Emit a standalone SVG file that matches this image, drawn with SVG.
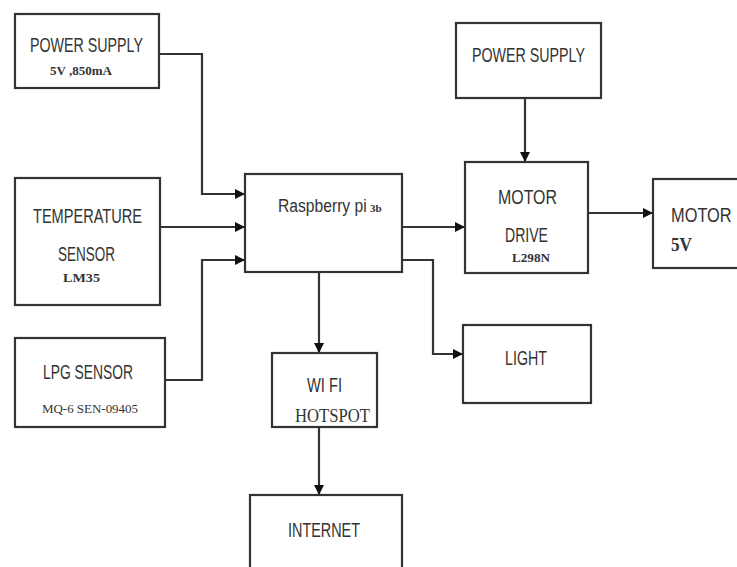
<svg xmlns="http://www.w3.org/2000/svg" width="737" height="567" viewBox="0 0 737 567">
<defs>
<marker id="arr" markerWidth="10" markerHeight="10" refX="9" refY="5" orient="auto" markerUnits="userSpaceOnUse">
<path d="M0,0 L10,5 L0,10 Z" fill="#111"/>
</marker>
<style>
.box{fill:#fff;stroke:#333;stroke-width:2.2}
.t{font-family:"Liberation Sans",Arial,sans-serif;font-size:20px;fill:#333}
.s{font-family:"Liberation Serif","Times New Roman",serif;font-size:13px;font-weight:bold;fill:#333}
.n{font-family:"Liberation Serif","Times New Roman",serif;font-size:13px;fill:#333}
.c{fill:none;stroke:#333;stroke-width:2.2}
</style>
</defs>
<rect width="737" height="567" fill="#fff"/>
<g id="connectors">
<polyline class="c" points="159,54 202,54 202,194 244,194" marker-end="url(#arr)"/>
<line class="c" x1="160" y1="227" x2="244" y2="227" marker-end="url(#arr)"/>
<polyline class="c" points="165,380 202,380 202,260 244,260" marker-end="url(#arr)"/>
<line class="c" x1="402" y1="227" x2="464" y2="227" marker-end="url(#arr)"/>
<line class="c" x1="525" y1="98" x2="525" y2="161" marker-end="url(#arr)"/>
<line class="c" x1="588" y1="213" x2="652" y2="213" marker-end="url(#arr)"/>
<polyline class="c" points="402,260 433,260 433,354 462,354" marker-end="url(#arr)"/>
<line class="c" x1="319" y1="272" x2="319" y2="352" marker-end="url(#arr)"/>
<line class="c" x1="319" y1="427" x2="319" y2="494" marker-end="url(#arr)"/>
</g>
<g id="power-supply-left">
<rect class="box" x="15" y="14" width="144" height="74"/>
<text class="t" x="30" y="52" textLength="113" lengthAdjust="spacingAndGlyphs">POWER SUPPLY</text>
<text class="s" x="50" y="75" textLength="62" lengthAdjust="spacingAndGlyphs">5V ,850mA</text>
</g>
<g id="temperature-sensor">
<rect class="box" x="15" y="178" width="145" height="127"/>
<text class="t" x="33" y="223" textLength="109" lengthAdjust="spacingAndGlyphs">TEMPERATURE</text>
<text class="t" x="58" y="261" textLength="57" lengthAdjust="spacingAndGlyphs">SENSOR</text>
<text class="s" x="63" y="282" textLength="37" lengthAdjust="spacingAndGlyphs">LM35</text>
</g>
<g id="lpg-sensor">
<rect class="box" x="15" y="338" width="150" height="89"/>
<text class="t" x="43" y="379" textLength="90" lengthAdjust="spacingAndGlyphs">LPG SENSOR</text>
<text class="n" x="42" y="413" textLength="96" lengthAdjust="spacingAndGlyphs">MQ-6 SEN-09405</text>
</g>
<g id="raspberry-pi">
<rect class="box" x="245" y="174" width="157" height="98"/>
<text class="t" transform="translate(278,212) scale(0.87,1)" x="0" y="0" style="font-size:18px">Raspberry pi</text>
<text class="s" x="370" y="212" style="font-size:11px">3b</text>
</g>
<g id="power-supply-right">
<rect class="box" x="456" y="23" width="145" height="75"/>
<text class="t" x="472" y="62" textLength="113" lengthAdjust="spacingAndGlyphs">POWER SUPPLY</text>
</g>
<g id="motor-drive">
<rect class="box" x="465" y="162" width="123" height="111"/>
<text class="t" x="498" y="204" textLength="59" lengthAdjust="spacingAndGlyphs">MOTOR</text>
<text class="t" x="505" y="242" textLength="43" lengthAdjust="spacingAndGlyphs">DRIVE</text>
<text class="s" x="512" y="262" textLength="38" lengthAdjust="spacingAndGlyphs">L298N</text>
</g>
<g id="motor">
<rect class="box" x="653" y="179" width="100" height="89"/>
<text class="t" transform="translate(671,222) scale(0.82,1)" x="0" y="0">MOTOR</text>
<text class="s" x="671" y="251" style="font-size:18px" textLength="21" lengthAdjust="spacingAndGlyphs">5V</text>
</g>
<g id="light">
<rect class="box" x="463" y="325" width="128" height="78"/>
<text class="t" x="505" y="365" textLength="42" lengthAdjust="spacingAndGlyphs">LIGHT</text>
</g>
<g id="wifi-hotspot">
<rect class="box" x="272" y="353" width="105" height="74"/>
<text class="t" x="307" y="392" textLength="35" lengthAdjust="spacingAndGlyphs">WI FI</text>
<text class="n" x="295" y="422" style="font-size:19px" textLength="75" lengthAdjust="spacingAndGlyphs">HOTSPOT</text>
</g>
<g id="internet">
<rect class="box" x="250" y="495" width="152" height="90"/>
<text class="t" x="288" y="537" textLength="72" lengthAdjust="spacingAndGlyphs">INTERNET</text>
</g>
</svg>
